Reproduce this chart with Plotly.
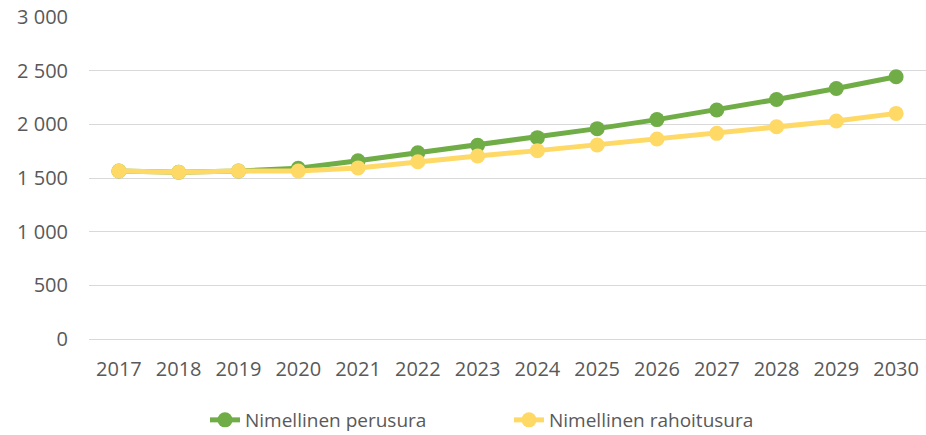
import plotly.graph_objects as go

years = ["2017", "2018", "2019", "2020", "2021", "2022", "2023", "2024", "2025", "2026", "2027", "2028", "2029", "2030"]
perusura = [1565, 1553, 1565, 1590, 1660, 1735, 1805, 1876, 1960, 2044, 2134, 2232, 2334, 2443]
rahoitusura = [1565, 1553, 1565, 1565, 1594, 1652, 1705, 1755, 1808, 1863, 1916, 1978, 2031, 2102]

fig = go.Figure()
fig.add_trace(go.Scatter(x=years, y=perusura, name="Nimellinen perusura", mode="lines+markers",
                         line=dict(color="#70ad47", width=5), marker=dict(size=15, color="#70ad47")))
fig.add_trace(go.Scatter(x=years, y=rahoitusura, name="Nimellinen rahoitusura", mode="lines+markers",
                         line=dict(color="#ffd966", width=5), marker=dict(size=15, color="#ffd966")))

fig.update_layout(
    width=926, height=435,
    margin=dict(l=89, r=0, t=17, b=96, autoexpand=False),
    plot_bgcolor="white", paper_bgcolor="white",
    separators=", ",
    font=dict(family="Open Sans", size=20, color="#595959"),
    showlegend=True,
    legend=dict(orientation="h", x=(205 - 89) / 837, xanchor="left", y=-(420 - 339) / 322, yanchor="middle",
                font=dict(size=19, color="#595959"), entrywidth=259, entrywidthmode="pixels",
                bgcolor="rgba(0,0,0,0)"),
    xaxis=dict(type="category", range=[-0.5, 13.5], showgrid=False, showline=True,
               linecolor="#d9d9d9", linewidth=1, ticks="", tickfont=dict(size=20),
               ticklabelstandoff=12, automargin=False),
    yaxis=dict(range=[0, 3000], tickvals=[0, 500, 1000, 1500, 2000, 2500, 3000], tickformat=",d",
               showgrid=True, gridcolor="#d9d9d9", gridwidth=1, zeroline=False, ticks="",
               ticklabelstandoff=20, tickfont=dict(size=20), automargin=False),
)

fig.write_html("out.html", config={"displayModeBar": False},
               post_script="document.body.style.margin='0';")
